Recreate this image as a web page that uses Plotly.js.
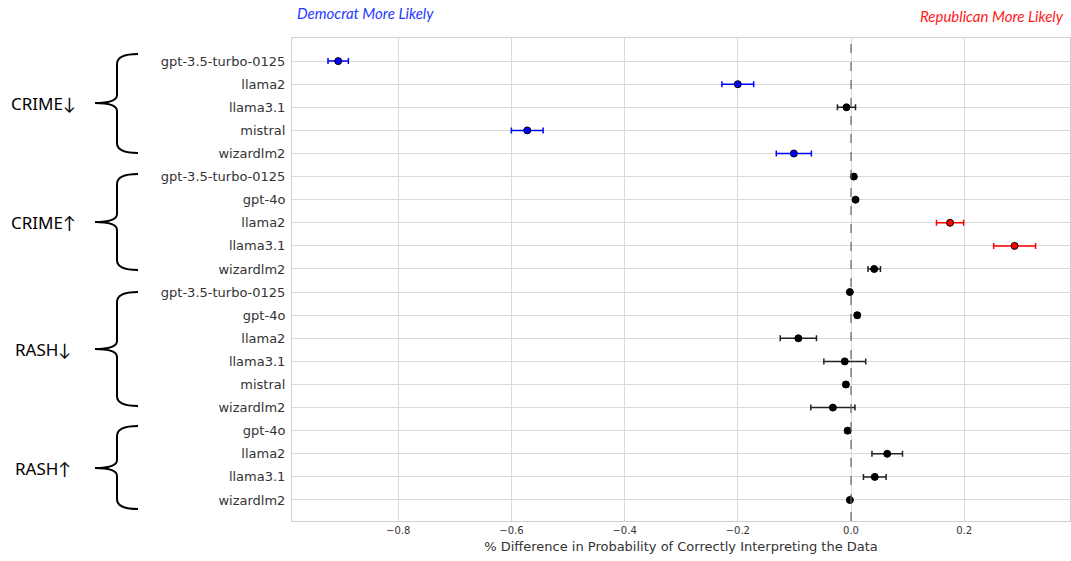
<!DOCTYPE html>
<html><head><meta charset="utf-8">
<script src="https://cdn.plot.ly/plotly-3.0.1.min.js"></script>
<style>body{margin:0;background:#fff}#c{width:1071px;height:561px}</style>
</head><body><div id="c"></div>
<script>
// ---- data ----
const groups = ["CRIME↓","CRIME↓","CRIME↓","CRIME↓","CRIME↓",
                "CRIME↑","CRIME↑","CRIME↑","CRIME↑","CRIME↑",
                "RASH↓","RASH↓","RASH↓","RASH↓","RASH↓","RASH↓",
                "RASH↑","RASH↑","RASH↑","RASH↑"];
const models = ["gpt-3.5-turbo-0125","llama2","llama3.1","mistral","wizardlm2",
                "gpt-3.5-turbo-0125","gpt-4o","llama2","llama3.1","wizardlm2",
                "gpt-3.5-turbo-0125","gpt-4o","llama2","llama3.1","mistral","wizardlm2",
                "gpt-4o","llama2","llama3.1","wizardlm2"];
const diffs = [-0.906,-0.200,-0.008,-0.572,-0.101,
               0.005,0.008,0.175,0.289,0.041,
               -0.002,0.011,-0.093,-0.011,-0.009,-0.032,
               -0.006,0.064,0.042,-0.002];
const errs  = [0.018,0.028,0.016,0.028,0.031,
               0.001,0.002,0.024,0.037,0.011,
               0.001,0.004,0.032,0.037,0.004,0.039,
               0.004,0.027,0.020,0.003];
const lean  = ["dem","dem","none","dem","dem",
               "none","none","rep","rep","none",
               "none","none","none","none","none","none",
               "none","none","none","none"];
const groupNames = ["CRIME↓","CRIME↑","RASH↓","RASH↑"];
const xTicks = [-0.8,-0.6,-0.4,-0.2,0.0,0.2];

// ---- layout geometry ----
const W=1071,H=561, L=292, R=1, T=38, B=40;
const pw=W-L-R, ph=H-T-B;
const px2paper = p => (p-L)/pw;
const py2paper = p => (H-B-p)/ph;

const styles = {
  dem:{fill:"#0000ff", bar:"#0000ff"},
  rep:{fill:"#ff0000", bar:"#ff0000"},
  none:{fill:"#000000", bar:"#222222"}
};
const traces = ["dem","rep","none"].map(k=>{
  const idx = diffs.map((_,i)=>i).filter(i=>lean[i]===k);
  return {
    type:"scatter", mode:"markers",
    x: idx.map(i=>diffs[i]), y: idx,
    error_x:{type:"data", array: idx.map(i=>errs[i]), color:styles[k].bar, thickness:1.5, width:3},
    marker:{size:7, color:styles[k].fill, line:{color:"#000", width:1}},
    showlegend:false, hoverinfo:"x+y"
  };
});

// brace shapes & group labels (pixel guides from reference)
const braceDefs = [[54,153,103],[174,270,222],[292,406,349],[426,509,468]];
const shapes = [];
const annotations = [];
braceDefs.forEach((b,gi)=>{
  const [top,bot,tip]=b;
  const xr=138, xm=117, xt=95, r=10;
  const P=(x,y)=>px2paper(x).toFixed(5)+","+py2paper(y).toFixed(5);
  const path = "M"+P(xr,top)+" Q"+P(xm,top)+" "+P(xm,top+r)+
               " L"+P(xm,tip-8)+" Q"+P(xm,tip)+" "+P(xt,tip)+
               " Q"+P(xm,tip)+" "+P(xm,tip+8)+
               " L"+P(xm,bot-r)+" Q"+P(xm,bot)+" "+P(xr,bot);
  shapes.push({type:"path", xref:"paper", yref:"paper", path:path,
               line:{color:"#000", width:2}});
  annotations.push({xref:"paper", yref:"paper", x:px2paper(43), y:py2paper(tip),
    text:groupNames[gi], showarrow:false, xanchor:"center", yanchor:"middle",
    font:{family:"Noto Sans, Lato, sans-serif", size:17, color:"#000"}});
});
shapes.push({type:"line", xref:"x", yref:"paper", x0:0, x1:0, y0:0, y1:1,
             line:{color:"#666", width:1.2, dash:"dash"}});
annotations.push({xref:"paper", yref:"paper", x:px2paper(295), y:py2paper(13),
  text:"<i>Democrat More Likely</i>", showarrow:false, xanchor:"left", yanchor:"middle",
  font:{family:"Lato, Noto Sans, sans-serif", size:15, color:"#1f3bff"}});
annotations.push({xref:"paper", yref:"paper", x:px2paper(1066), y:py2paper(16),
  text:"<i>Republican More Likely</i>", showarrow:false, xanchor:"right", yanchor:"middle",
  font:{family:"Lato, Noto Sans, sans-serif", size:15, color:"#ff1a1a"}});

const layout = {
  width:W, height:H,
  margin:{l:L, r:R, t:T, b:B, pad:0},
  paper_bgcolor:"#fff", plot_bgcolor:"#fff",
  font:{family:"DejaVu Sans, sans-serif", color:"#333"},
  xaxis:{range:[-0.9876,0.3869], tickvals:xTicks, tickformat:".1f",
         showgrid:true, gridcolor:"#d9d9d9", gridwidth:1, zeroline:false,
         showline:true, linecolor:"#d0d0d0", mirror:true, ticks:"",
         tickfont:{size:10, color:"#333"},
         title:{text:"% Difference in Probability of Correctly Interpreting the Data",
                font:{size:13, color:"#333"}, standoff:6}},
  yaxis:{range:[19.91,-1], tickvals:models.map((_,i)=>i), ticktext:models,
         showgrid:true, gridcolor:"#d9d9d9", gridwidth:1, zeroline:false,
         showline:true, linecolor:"#d0d0d0", mirror:true, ticks:"",
         tickfont:{size:13, color:"#333"}, ticklabelstandoff:3},
  shapes:shapes, annotations:annotations
};
Plotly.newPlot("c", traces, layout, {staticPlot:true, displayModeBar:false});
</script></body></html>
